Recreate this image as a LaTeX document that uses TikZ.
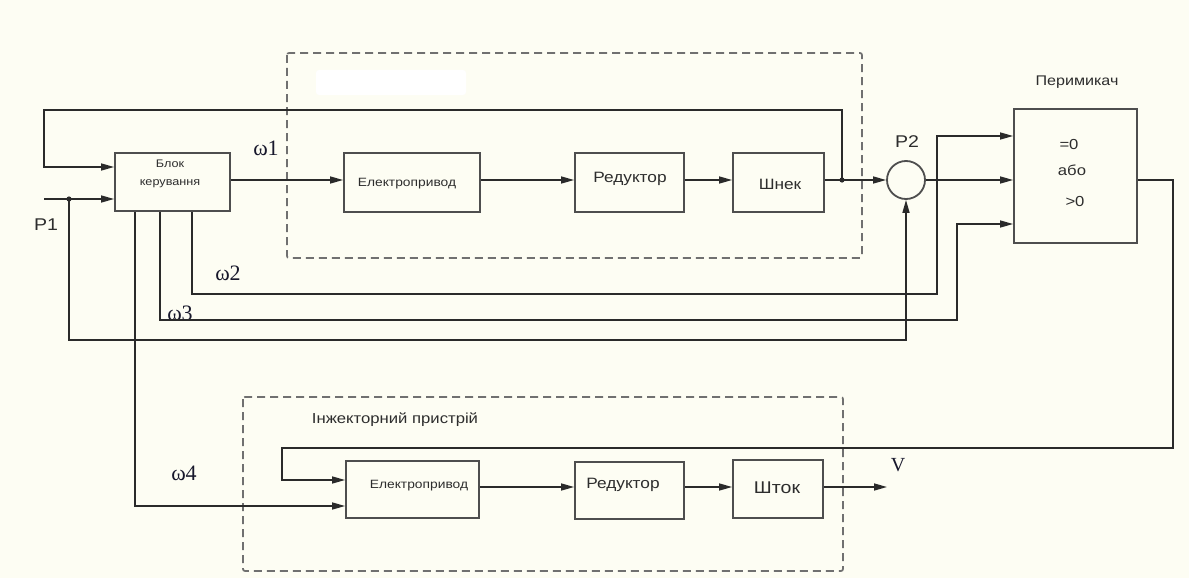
\documentclass[tikz,border=0pt]{standalone}
\usepackage{fontspec}
\newfontfamily\lab{Liberation Sans}[FakeStretch=1.15]
\newfontfamily\sym{Liberation Serif}
\usetikzlibrary{arrows.meta,calc}

\definecolor{paper}{RGB}{253,253,243}
\definecolor{wirecol}{RGB}{42,42,42}
\definecolor{boxcol}{RGB}{78,78,78}
\definecolor{dashcol}{RGB}{112,112,112}
\definecolor{txtcol}{RGB}{45,45,45}
\definecolor{symcol}{RGB}{24,24,44}

\newcommand\fsz[1]{\fontsize{#1}{#1}\selectfont}

\tikzset{
  wire/.style={draw=wirecol, line width=1.5pt},
  arr/.style={wire, -{Triangle[length=13pt,width=7pt]}},
  blk/.style={draw=boxcol, line width=1.8pt, inner sep=0pt},
  frame/.style={draw=dashcol, line width=1.7pt, dash pattern=on 8pt off 5pt, rounded corners=2pt},
  sans/.style={text=txtcol, inner sep=0pt, font=\lab\fsz{#1}},
  greek/.style={text=symcol, inner sep=0pt, font=\sym\fsz{#1}},
  dot/.style={fill=wirecol}
}

\begin{document}
\begin{tikzpicture}[x=1pt,y=-1pt]
\useasboundingbox (0,0) rectangle (1189,578);
\fill[paper] (0,0) rectangle (1189,578);

% dashed groups
\fill[white, rounded corners=3pt] (316,70) rectangle (466,95);
\draw[frame] (287,53) rectangle (862,258);
\draw[frame] (243,397) rectangle (843,571);

% blocks
\node[blk, minimum width=115pt, minimum height=58pt] (bk)    at (172.5,182) {};
\node[blk, minimum width=136pt, minimum height=59pt] (el1)   at (412,182.5) {};
\node[blk, minimum width=109pt, minimum height=59pt] (red1)  at (629.5,182.5) {};
\node[blk, minimum width=91pt,  minimum height=59pt] (shn)   at (778.5,182.5) {};
\node[blk, circle, minimum size=38pt]                 (p2)    at (906,180) {};
\node[blk, minimum width=123pt, minimum height=134pt] (sw)   at (1075.5,176) {};
\node[blk, minimum width=133pt, minimum height=57pt] (el2)   at (412.5,489.5) {};
\node[blk, minimum width=109pt, minimum height=57pt] (red2)  at (629.5,490.5) {};
\node[blk, minimum width=90pt,  minimum height=58pt] (shtok) at (778,489) {};

% block texts
\node[sans=11, align=center, font=\lab\fontsize{11}{18}\selectfont] (bkt) at (170,174) {Блок\\керування};
\node[sans=12] (el1t)  at (407,184) {Електропривод};
\node[sans=15] (red1t) at (630,179) {Редуктор};
\node[sans=15] (shnt)  at (780,184) {Шнек};
\node[sans=14.5] (swa) at (1069,145) {=0};
\node[sans=14.5] (swb) at (1072,170) {або};
\node[sans=14.5] (swc) at (1075,202) {>0};
\node[sans=12] (el2t)  at (419,486) {Електропривод};
\node[sans=15] (red2t) at (623,485) {Редуктор};
\node[sans=17] (shtt)  at (777,488) {Шток};

% captions
\node[sans=14] (swl) at (1077,82) {Перимикач};
\node[sans=14.5] (inj) at (395,420) {Інжекторний пристрій};
\node[sans=17] (p1l) at (46,225) {P1};
\node[sans=17] (p2l) at (907,142) {P2};
\node[greek=22] (w1) at (266,148) {ω1};
\node[greek=22] (w2) at (228,273) {ω2};
\node[greek=22] (w3) at (180,313) {ω3};
\node[greek=22] (w4) at (184,473) {ω4};
\node[greek=20] (vl) at (898,465) {V};

% levels and bends
\coordinate (lvTop) at (0,180);
\coordinate (lvBot) at (0,487);
\coordinate (in1) at (0,167);
\coordinate (fbL) at (44,110);
\coordinate (p1s) at (44,199);
\coordinate (j0) at (69,199);
\coordinate (j1) at (842,180);
\coordinate (lvP) at (0,340);
\coordinate (w2x) at (192,0);
\coordinate (lv2) at (0,294);
\coordinate (s2x) at (937,0);
\coordinate (in2) at (0,136);
\coordinate (w3x) at (160,0);
\coordinate (lv3) at (0,320);
\coordinate (s3x) at (957,0);
\coordinate (in3) at (0,224);
\coordinate (w4x) at (135,0);
\coordinate (in4) at (0,506);
\coordinate (ox) at (1173,448);
\coordinate (bx) at (282,0);
\coordinate (in5) at (0,480);
\coordinate (vend) at (887,487);

% main chain
\draw[arr] (bk.east |- lvTop) -- (el1.west |- lvTop);
\draw[arr] (el1.east |- lvTop) -- (red1.west |- lvTop);
\draw[arr] (red1.east |- lvTop) -- (shn.west |- lvTop);
\draw[arr] (shn.east |- lvTop) -- (p2.west);
\draw[arr] (p2.east) -- (sw.west |- p2.east);

% feedback from the screw output
\draw[arr] (j1) |- (fbL) |- (bk.west |- in1);
\fill[dot] (j1) circle[radius=2.6pt];

% P1 input and branch to the comparator
\draw[arr] (p1s) -- (bk.west |- p1s);
\draw[arr] (j0) -- (j0 |- lvP) -| (p2.south);
\fill[dot] (j0) circle[radius=2.6pt];

% control outputs
\draw[arr] (bk.south -| w2x) |- (s2x |- lv2) |- (sw.west |- in2);
\draw[arr] (bk.south -| w3x) |- (s3x |- lv3) |- (sw.west |- in3);
\draw[arr] (bk.south -| w4x) |- (el2.west |- in4);

% switch output to the injector drive
\draw[arr] (sw.east |- lvTop) -| (ox) -| (bx |- in5) -- (el2.west |- in5);

% injector chain
\draw[arr] (el2.east |- lvBot) -- (red2.west |- lvBot);
\draw[arr] (red2.east |- lvBot) -- (shtok.west |- lvBot);
\draw[arr] (shtok.east |- lvBot) -- (vend);
\end{tikzpicture}
\end{document}
